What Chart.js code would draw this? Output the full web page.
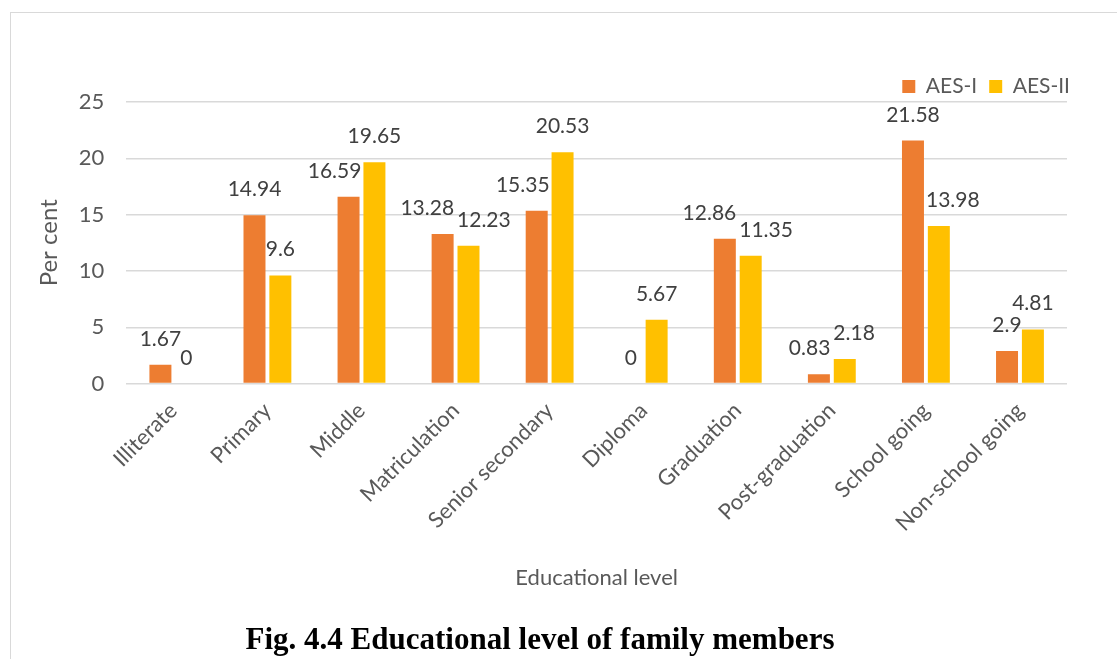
<!DOCTYPE html>
<html>
<head>
<meta charset="utf-8">
<script src="https://cdn.jsdelivr.net/npm/chart.js@4"></script>
<style>
  body { margin: 0; background: #fff; }
  #wrap { position: relative; width: 1117px; height: 659px; overflow: hidden; }
  #frame { position: absolute; left: 10px; top: 12px; width: 1130px; height: 700px; border: 1px solid #d9d9d9; box-sizing: border-box; }
  #cv { position: absolute; left: 0; top: 0; }
  #caption { position: absolute; left: 0; width: 1080px; top: 621px; text-align: center;
    font: bold 31px "Liberation Serif", "Times New Roman", serif; color: #000; }
</style>
</head>
<body>
<div id="wrap">
  <div id="frame"></div>
  <canvas id="cv" width="1117" height="659"></canvas>
  <div id="caption">Fig. 4.4 Educational level of family members</div>
</div>
<script>
const levels = ['Illiterate', 'Primary', 'Middle', 'Matriculation', 'Senior secondary',
  'Diploma', 'Graduation', 'Post-graduation', 'School going', 'Non-school going'];
const aes1 = [1.67, 14.94, 16.59, 13.28, 15.35, 0, 12.86, 0.83, 21.58, 2.9];
const aes2 = [0, 9.6, 19.65, 12.23, 20.53, 5.67, 11.35, 2.18, 13.98, 4.81];
const yTicks = [0, 5, 10, 15, 20, 25];

const font = 'Lato';
const grey = '#595959';
const labelSize = 21;

// value labels above the bars, nudged sideways when they collide
const valueLabels = {
  id: 'valueLabels',
  afterDatasetsDraw(chart) {
    const ctx = chart.ctx;
    ctx.save();
    ctx.font = labelSize + 'px ' + font;
    ctx.fillStyle = '#404040';
    ctx.textAlign = 'center';
    ctx.textBaseline = 'alphabetic';
    const m0 = chart.getDatasetMeta(0).data;
    const m1 = chart.getDatasetMeta(1).data;
    const capH = labelSize * 0.72;
    chart.data.labels.forEach((_, j) => {
      const bars = [m0[j], m1[j]];
      const boxes = bars.map((bar, i) => {
        const txt = String(chart.data.datasets[i].data[j]);
        const w = ctx.measureText(txt).width;
        return { txt, x: bar.x, y: bar.y - 19, w };
      });
      const a = boxes[0], b = boxes[1];
      const barA = bars[0], barB = bars[1];
      // orange label running into the taller yellow bar
      if (a.y > barB.y && a.x + a.w / 2 > barB.x - barB.width / 2) {
        a.x = barB.x - barB.width / 2 - 2 - a.w / 2;
      }
      // yellow label running into the taller orange bar
      if (b.y > barA.y && b.x - b.w / 2 < barA.x + barA.width / 2) {
        b.x = barA.x + barA.width / 2 + 2 + b.w / 2;
      }
      // labels running into each other
      const vOver = !(a.y + 3 < b.y - capH || b.y + 3 < a.y - capH);
      const hOver = (a.x + a.w / 2 + 3) - (b.x - b.w / 2);
      if (vOver && hOver > 0) {
        a.x -= hOver / 2;
        b.x += hOver / 2;
      }
      boxes.forEach(l => ctx.fillText(l.txt, l.x, l.y));
    });
    ctx.restore();
  }
};

// push the legend a little right and down, like the original
const legendShift = {
  id: 'legendShift',
  afterLayout(chart) {
    const lg = chart.legend;
    lg.left += 15; lg.right += 15;
    lg.top += 5; lg.bottom += 5;
  }
};

const ctx = document.getElementById('cv').getContext('2d');
const chart = new Chart(ctx, {
  type: 'bar',
  data: {
    labels: levels,
    datasets: [
      { label: 'AES-I', data: aes1, backgroundColor: '#ED7D31', barPercentage: 0.85, categoryPercentage: 0.55 },
      { label: 'AES-II', data: aes2, backgroundColor: '#FFC000', barPercentage: 0.85, categoryPercentage: 0.55 }
    ]
  },
  options: {
    responsive: false,
    animation: false,
    layout: { padding: { left: 31, right: 50, top: 59, bottom: 64 } },
    plugins: {
      legend: {
        position: 'top',
        align: 'end',
        labels: { boxWidth: 13, boxHeight: 13, padding: 12, color: grey, font: { family: font, size: 21 } }
      },
      tooltip: { enabled: false }
    },
    scales: {
      x: {
        grid: { display: false },
        border: { display: false },
        ticks: { color: grey, font: { family: font, size: 22 }, minRotation: 45, maxRotation: 45, padding: 6 },
        title: { display: true, text: 'Educational level', color: grey, font: { family: font, size: 22 }, padding: { top: 22 } }
      },
      y: {
        min: yTicks[0],
        max: yTicks[yTicks.length - 1],
        afterBuildTicks(axis) { axis.ticks = yTicks.map(v => ({ value: v })); },
        afterFit(axis) { axis.width -= 7; },
        grid: { color: '#d9d9d9', lineWidth: 1.5, drawTicks: false },
        border: { display: false },
        ticks: { color: grey, font: { family: font, size: 22 }, padding: 22 },
        title: { display: true, text: 'Per cent', color: grey, font: { family: font, size: 24 }, padding: { bottom: 0 } }
      }
    }
  },
  plugins: [valueLabels, legendShift]
});
</script>
</body>
</html>
